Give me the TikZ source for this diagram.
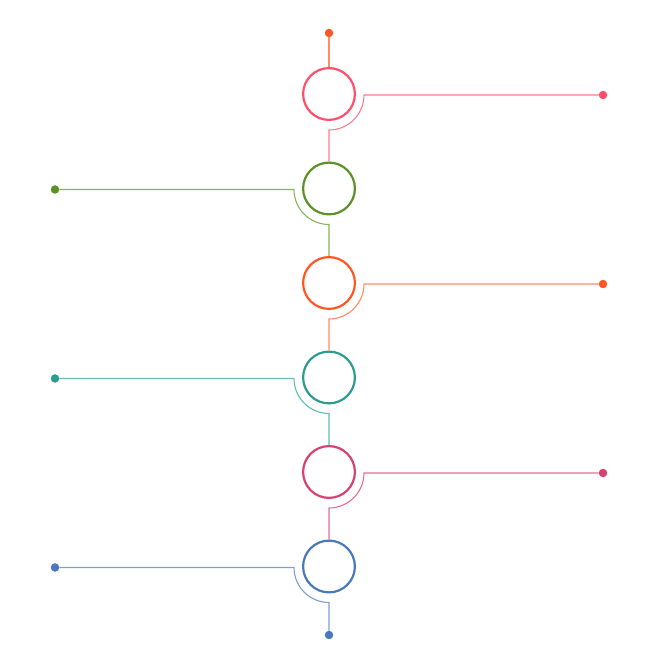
\documentclass[tikz,border=0pt]{standalone}
\definecolor{pinkA}{HTML}{FF4F6B}
\definecolor{pinkAl}{HTML}{FF7A90}
\definecolor{greenA}{HTML}{5B9127}
\definecolor{greenAl}{HTML}{86B556}
\definecolor{orangeA}{HTML}{FF5722}
\definecolor{orangeAl}{HTML}{FF8A65}
\definecolor{tealA}{HTML}{2E9C8C}
\definecolor{tealAl}{HTML}{5FBFB0}
\definecolor{roseA}{HTML}{D9426F}
\definecolor{roseAl}{HTML}{EC6A92}
\definecolor{blueA}{HTML}{4A78BC}
\definecolor{blueAl}{HTML}{7B9ED3}
\begin{document}
\begin{tikzpicture}[x=1pt,y=1pt,
  ring/.style={circle,draw=#1,line width=2.2pt,minimum size=51.8pt,inner sep=0pt,fill=white},
  dot/.style={circle,fill=#1,inner sep=0pt,minimum size=8.5pt},
  conn/.style={draw=#1,line width=1.1pt}]
\useasboundingbox (0,0) rectangle (658,658);
% circles
\node[ring=pinkA]   (c1) at (329,564)   {};
\node[ring=greenA]  (c2) at (329,469.5) {};
\node[ring=orangeA] (c3) at (329,375)   {};
\node[ring=tealA]   (c4) at (329,280.5) {};
\node[ring=roseA]   (c5) at (329,186)   {};
\node[ring=blueA]   (c6) at (329,91.5)  {};
% dots
\node[dot=orangeA] (top) at (329,625) {};
\node[dot=blueA]   (bot) at (329,23)  {};
\node[dot=pinkA]   (d1) at (603,563)   {};
\node[dot=greenA]  (d2) at (55,468.5)  {};
\node[dot=orangeA] (d3) at (603,374)   {};
\node[dot=tealA]   (d4) at (55,279.5)  {};
\node[dot=roseA]   (d5) at (603,185)   {};
\node[dot=blueA]   (d6) at (55,90.5)   {};
% bend points
\coordinate (a1) at (364,563);
\coordinate (a2) at (294,468.5);
\coordinate (a3) at (364,374);
\coordinate (a4) at (294,279.5);
\coordinate (a5) at (364,185);
\coordinate (a6) at (294,90.5);
% connectors
\draw[conn=orangeAl] (top) -- (c1.north);
\draw[conn=pinkAl]   (d1) -- (a1) arc[start angle=0,end angle=-90,radius=35] -- (c2.north);
\draw[conn=greenAl]  (d2) -- (a2) arc[start angle=180,end angle=270,radius=35] -- (c3.north);
\draw[conn=orangeAl] (d3) -- (a3) arc[start angle=0,end angle=-90,radius=35] -- (c4.north);
\draw[conn=tealAl]   (d4) -- (a4) arc[start angle=180,end angle=270,radius=35] -- (c5.north);
\draw[conn=roseAl]   (d5) -- (a5) arc[start angle=0,end angle=-90,radius=35] -- (c6.north);
\draw[conn=blueAl]   (d6) -- (a6) arc[start angle=180,end angle=270,radius=35] -- (bot);
\end{tikzpicture}
\end{document}
